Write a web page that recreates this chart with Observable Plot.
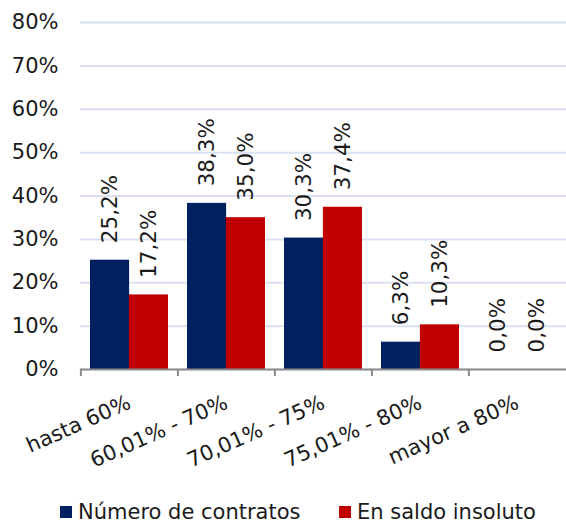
<!DOCTYPE html>
<html><head><meta charset="utf-8">
<script src="https://cdn.jsdelivr.net/npm/d3@7"></script>
<script src="https://cdn.jsdelivr.net/npm/@observablehq/plot@0.6"></script>
<style>
body{margin:0;background:#fff;font-family:"DejaVu Sans",Verdana,sans-serif;}
#legend{position:relative;height:26px;font-size:21px;color:#1a1a1a;}
.item{position:absolute;top:2px;display:flex;align-items:center;height:26px;white-space:nowrap;}
.sw{width:12px;height:12px;margin-right:6px;}
</style></head><body><div id="chart"></div><div id="legend"></div>
<script>
const categories = ["hasta 60%", "60,01% - 70%", "70,01% - 75%", "75,01% - 80%", "mayor a 80%"];
const contratos = [25.2, 38.3, 30.3, 6.3, 0.0];
const saldo = [17.2, 35.0, 37.4, 10.3, 0.0];
const seriesNames = ["Número de contratos", "En saldo insoluto"];
const colors = ["#002060", "#C00000"];
const yTicks = [0, 10, 20, 30, 40, 50, 60, 70, 80];

const rowsA = categories.map((c, i) => ({cat: c, value: contratos[i]}));
const rowsB = categories.map((c, i) => ({cat: c, value: saldo[i]}));
const fmt = v => v.toFixed(1).replace(".", ",") + "%";

const W = 566, H = 497, mL = 80, mR = 0, mT = 22, mB = 128;
const step = (W - mL - mR) / categories.length;
const bw = step * 0.8, half = bw / 2;
const txt = "#1a1a1a";

const chart = Plot.plot({
  width: W, height: H,
  marginLeft: mL, marginRight: mR, marginTop: mT, marginBottom: mB,
  style: {fontFamily: "DejaVu Sans, Verdana, sans-serif", fontSize: "21px", color: txt, background: "#fff"},
  x: {domain: categories, paddingInner: 0.2, paddingOuter: 0.1, axis: null, label: null},
  y: {domain: [0, 80], axis: null, label: null},
  marks: [
    Plot.gridY(yTicks, {stroke: "#D9E1F2", strokeOpacity: 1, strokeWidth: 2}),
    Plot.barY(rowsA, {x: "cat", y: "value", fill: colors[0], insetRight: half}),
    Plot.barY(rowsB, {x: "cat", y: "value", fill: colors[1], insetLeft: half}),
    Plot.ruleY([0], {stroke: "#8c8c8c", strokeWidth: 2}),
    Plot.ruleX(categories, {x: d => d, y1: 0, y2: 0, insetBottom: -7, dx: -step / 2, stroke: "#8c8c8c", strokeWidth: 2}),
    Plot.text(rowsA, {x: "cat", y: "value", text: d => fmt(d.value), rotate: -90, textAnchor: "start", lineAnchor: "middle", dx: -half / 2, dy: -17, fontSize: 21.5, fill: txt}),
    Plot.text(rowsB, {x: "cat", y: "value", text: d => fmt(d.value), rotate: -90, textAnchor: "start", lineAnchor: "middle", dx: half / 2, dy: -17, fontSize: 21.5, fill: txt}),
    Plot.axisY(yTicks, {tickFormat: d => d + "%", tickSize: 0, tickPadding: 22, fontSize: 21, fill: txt, label: null}),
    Plot.axisX(categories, {tickRotate: -24, tickSize: 0, tickPadding: 32, fontSize: 21, fill: txt, label: null})
  ]
});
document.getElementById("chart").appendChild(chart);

const legend = document.getElementById("legend");
const lx = [60, 339];
seriesNames.forEach((s, i) => {
  const it = document.createElement("div");
  it.className = "item";
  it.style.left = lx[i] + "px";
  it.innerHTML = `<span class="sw" style="background:${colors[i]}"></span><span>${s}</span>`;
  legend.appendChild(it);
});
</script>
</body></html>
